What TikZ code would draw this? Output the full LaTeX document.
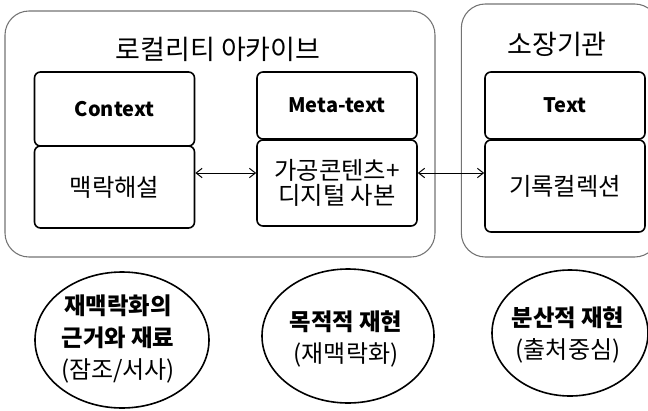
\documentclass[tikz,border=0pt]{standalone}
\usepackage{fontspec}
\setmainfont{Noto Sans CJK KR}
\usetikzlibrary{arrows.meta,shapes.geometric}

\begin{document}
\begin{tikzpicture}[x=0.75pt, y=-0.75pt,
  font=\fontsize{18.25pt}{18.75pt}\selectfont, >={Straight Barb[length=4.5pt,width=7pt]},
  grp/.style={draw=black!55, line width=0.8pt, rounded corners=18pt},
  ttl/.style={font=\fontsize{20.25pt}{22pt}\selectfont},
  hdr/.style={draw, line width=1.2pt, rounded corners=4.5pt, minimum width=120pt, align=center, font=\fontsize{15pt}{18pt}\bfseries},
  bdy/.style={draw, line width=1.2pt, rounded corners=4.5pt, minimum width=120pt, align=center},
  oval/.style={draw, ellipse, line width=1.2pt, inner sep=0pt},
  ovaltxt/.style={align=center, font=\fontsize{17.5pt}{24pt}\selectfont},
  link/.style={<->, line width=0.75pt}]
\useasboundingbox (0,0) rectangle (648,410);
% frames
\node[grp, minimum width=322.5pt, minimum height=184.5pt] (local) at (220,134) {};
\node[grp, minimum width=148pt, minimum height=189.75pt] (holder) at (560,130.5) {};
\node[ttl] (localt) at (218,49) {로컬리티 아카이브};
\node[ttl] (holdert) at (557,44) {소장기관};
% boxes
\node[hdr, minimum height=55.5pt] (ctxh) at (114.5,109) {Context};
\node[bdy, minimum height=61.5pt] (ctxb) at (114.5,187) {맥락해설};
\node[hdr, minimum height=50.25pt] (metah) at (337,105.5) {Meta-text};
\node[bdy, minimum height=64.5pt] (metab) at (337,183) {가공콘텐츠+\\디지털 사본};
\node[hdr, minimum height=50.25pt] (txth) at (565,105.5) {Text};
\node[bdy, minimum height=69pt] (txtb) at (565,186) {기록컬렉션};
\draw[link] ([yshift=10.5pt]ctxb.east) -- ([yshift=7.5pt]metab.west);
\draw[link] ([yshift=7.5pt]metab.east) -- ([yshift=9.75pt]txtb.west);
% reproduction types
\node[oval, minimum width=130.5pt, minimum height=102pt] (basis) at (122,340) {};
\node[ovaltxt] (basist) at (118,339) {\textbf{재맥락화의}\\\textbf{근거와 재료}\\{\fontsize{18pt}{24pt}\selectfont(잠조/서사)}};
\node[oval, minimum width=129pt, minimum height=100.5pt] (purpose) at (348,336) {};
\node[ovaltxt] (purposet) at (346,339) {\textbf{목적적 재현}\\{\fontsize{18pt}{24pt}\selectfont(재맥락화)}};
\node[oval, minimum width=117pt, minimum height=94.5pt] (spread) at (570,333) {};
\node[ovaltxt] (spreadt) at (568,335) {\textbf{분산적 재현}\\{\fontsize{18pt}{24pt}\selectfont(출처중심)}};
\end{tikzpicture}
\end{document}
